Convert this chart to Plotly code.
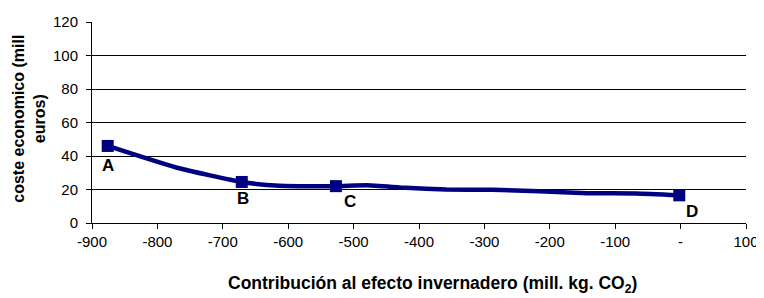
import plotly.graph_objects as go

x_vals = [-876, -770, -671, -613, -527, -479, -420, -358, -288, -216, -143, -68, -2]
y_vals = [46, 33, 24.5, 22.2, 22, 22.5, 21, 20, 19.8, 19, 17.8, 17.6, 16.5]
pt_x = [-876, -671, -527, -2]
pt_y = [46, 24.5, 22, 16.5]
pt_labels = ["A", "B", "C", "D"]
label_dx = [0, 1, 14, 13]
label_dy = [-20, -17, -15, -16]
x_ticks = [-900, -800, -700, -600, -500, -400, -300, -200, -100, 0, 100]
x_ticktext = ["-900", "-800", "-700", "-600", "-500", "-400", "-300", "-200", "-100", "-", "100"]
y_ticks = [0, 20, 40, 60, 80, 100, 120]

navy = "#000080"
FONT = "Liberation Sans, Arial"
fig = go.Figure()
fig.add_trace(go.Scatter(x=x_vals, y=y_vals, mode="lines",
                         line=dict(color=navy, width=4.5, shape="spline", smoothing=0.5),
                         showlegend=False, hoverinfo="skip"))
fig.add_trace(go.Scatter(x=pt_x, y=pt_y, mode="markers",
                         marker=dict(symbol="square", size=12, color=navy),
                         showlegend=False))
annotations = []
for px, py, t, dx, dy in zip(pt_x, pt_y, pt_labels, label_dx, label_dy):
    annotations.append(dict(x=px, y=py, text="<b>%s</b>" % t, showarrow=False,
                            xshift=dx, yshift=dy,
                            font=dict(family=FONT, size=17, color="black")))
annotations.append(dict(xref="paper", yref="paper", x=-0.096, y=0.52,
                        text="<b>coste economico (mill<br>euros)</b>", textangle=-90,
                        showarrow=False, xanchor="center", yanchor="middle",
                        font=dict(family=FONT, size=16, color="black")))
annotations.append(dict(xref="paper", yref="paper", x=0.521, y=-0.305,
                        text="<b>Contribución al efecto invernadero (mill. kg. CO<sub>2</sub>)</b>",
                        showarrow=False, xanchor="center", yanchor="middle",
                        font=dict(family=FONT, size=17.5, color="black")))

fig.update_layout(
    width=756, height=290,
    margin=dict(l=84, r=17, t=5, b=75),
    plot_bgcolor="white", paper_bgcolor="white",
    font=dict(family=FONT, size=15, color="black"),
    annotations=annotations,
    xaxis=dict(range=[-900, 100], tickvals=x_ticks, ticktext=x_ticktext,
               showgrid=False, zeroline=False, showline=True, linecolor="black", linewidth=1,
               ticks="outside", ticklen=5, tickcolor="black", ticklabeloverflow="allow"),
    yaxis=dict(range=[0, 120], tickvals=y_ticks, showgrid=True, gridcolor="#000000",
               gridwidth=1, zeroline=False, showline=True, linecolor="black", linewidth=1,
               ticks="outside", ticklen=5, tickcolor="black", ticklabelstandoff=5,
               ticklabeloverflow="allow"),
)
fig.write_html("out.html")
